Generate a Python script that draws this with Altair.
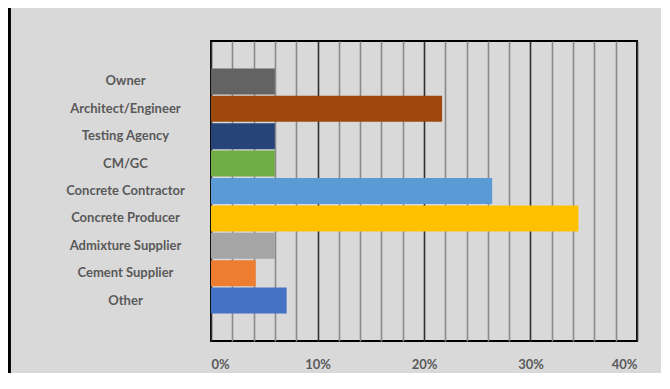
import altair as alt
import pandas as pd

categories = ["Owner", "Architect/Engineer", "Testing Agency", "CM/GC",
              "Concrete Contractor", "Concrete Producer", "Admixture Supplier",
              "Cement Supplier", "Other"]
shares = [0.060, 0.217, 0.060, 0.060, 0.264, 0.345, 0.060, 0.042, 0.071]
colors = ["#636363", "#9e480e", "#264478", "#70ad47", "#5b9bd5", "#ffc000",
          "#a5a5a5", "#ed7d31", "#4472c4"]
grid_values = [i / 50 for i in range(21)]

df = pd.DataFrame({"category": categories, "share": shares})

major = "abs(datum.value*10 - round(datum.value*10)) < 0.001"

bars = alt.Chart(df).mark_bar(opacity=1).encode(
    y=alt.Y("category:N", sort=categories,
            scale=alt.Scale(paddingInner=0.05, paddingOuter=1.0),
            axis=alt.Axis(title=None, ticks=False, tickSize=0, domain=False,
                          labelAlign="center", labelPadding=86,
                          labelFont="Lato", labelFontWeight="bold",
                          labelFontSize=13, labelColor="#595959")),
    x=alt.X("share:Q", scale=alt.Scale(domain=[0, 0.4], nice=False),
            axis=alt.Axis(title=None, values=grid_values, format=".0%",
                          labelExpr=f"{major} ? datum.label : ''",
                          ticks=False, tickSize=0, domain=False,
                          grid=True,
                          gridColor={"condition": {"test": major, "value": "#303030"},
                                     "value": "#8a8a8a"},
                          gridWidth=1.6, gridOpacity=1,
                          labelPadding=17, labelFont="Lato", labelFontWeight="bold",
                          labelFontSize=13, labelColor="#595959")),
    color=alt.Color("category:N", scale=alt.Scale(domain=categories, range=colors),
                    legend=None),
)

frame_left = alt.Chart(df).mark_rule(color="black", strokeWidth=2.5).encode(
    x=alt.value(-202), y=alt.value(-33), y2=alt.value(340))

chart = alt.layer(bars, frame_left).properties(
    width=426, height=300,
    autosize=alt.AutoSizeParams(type="none"),
    padding={"left": 203, "top": 33, "right": 24, "bottom": 32},
    background="#d9d9d9",
).configure_view(stroke="black", strokeWidth=2, fill="#d9d9d9")

chart.save("out.html", embed_options={"renderer": "svg", "actions": False})
